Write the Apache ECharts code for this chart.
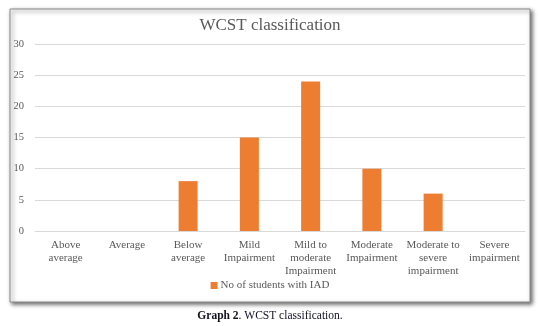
<!DOCTYPE html>
<html>
<head>
<meta charset="utf-8">
<style>
  html, body { margin: 0; padding: 0; background: #ffffff; }
  #chart { width: 540px; height: 326px; }
</style>
<script src="https://cdn.jsdelivr.net/npm/echarts@6/dist/echarts.min.js"></script>
</head>
<body>
<div id="chart"></div>
<script>
// WCST classification categories and counts
const categories = [
  'Above\naverage',
  'Average',
  'Below\naverage',
  'Mild\nImpairment',
  'Mild to\nmoderate\nImpairment',
  'Moderate\nImpairment',
  'Moderate to\nsevere\nimpairment',
  'Severe\nimpairment'
];
const studentsWithIAD = [0, 0, 8, 15, 24, 10, 6, 0];
const seriesName = 'No of students with IAD';
const chartTitle = 'WCST classification';
const captionBold = 'Graph 2';
const captionRest = '. WCST classification.';

const serif = '"Liberation Serif", "Times New Roman", serif';
const textGray = '#595959';

const chart = echarts.init(document.getElementById('chart'), null, { renderer: 'canvas' });

chart.setOption({
  animation: false,
  backgroundColor: '#ffffff',
  graphic: [
    {
      type: 'rect',
      z: -10,
      shape: { x: 10, y: 9, width: 520, height: 293 },
      style: {
        fill: '#ffffff',
        stroke: '#8c8c8c',
        lineWidth: 1,
        shadowBlur: 4,
        shadowOffsetX: 2,
        shadowOffsetY: 2,
        shadowColor: 'rgba(0,0,0,0.6)'
      }
    },
    {
      type: 'text',
      left: 'center',
      top: 310,
      style: {
        text: '{b|' + captionBold + '}{r|' + captionRest + '}',
        rich: {
          b: { fontFamily: serif, fontSize: 11.5, fontWeight: 'bold', fill: '#111122' },
          r: { fontFamily: serif, fontSize: 11.5, fontWeight: 'normal', fill: '#111122' }
        }
      }
    }
  ],
  title: {
    text: chartTitle,
    left: 'center',
    top: 12,
    textStyle: { fontFamily: serif, fontSize: 17, fontWeight: 'normal', color: textGray }
  },
  legend: {
    bottom: 30,
    left: 'center',
    itemWidth: 7,
    itemHeight: 7,
    itemGap: 4,
    icon: 'rect',
    textStyle: { fontFamily: serif, fontSize: 11, color: textGray, padding: [0, 0, 0, -2] },
    data: [seriesName]
  },
  grid: { left: 35, right: 15, top: 44, bottom: 95 },
  xAxis: {
    type: 'category',
    data: categories,
    axisLine: { show: true, lineStyle: { color: '#d9d9d9', width: 1 } },
    axisTick: { show: false },
    axisLabel: {
      interval: 0,
      margin: 8,
      fontFamily: serif,
      fontSize: 11,
      lineHeight: 13,
      color: textGray
    }
  },
  yAxis: {
    type: 'value',
    min: 0,
    max: 30,
    interval: 5,
    axisLine: { show: false },
    axisTick: { show: false },
    splitLine: { lineStyle: { color: '#d9d9d9', width: 1 } },
    axisLabel: { margin: 11, fontFamily: serif, fontSize: 10.5, color: textGray }
  },
  series: [
    {
      name: seriesName,
      type: 'bar',
      data: studentsWithIAD,
      barWidth: 19,
      itemStyle: { color: '#ED7D31' }
    }
  ]
});
</script>
</body>
</html>
